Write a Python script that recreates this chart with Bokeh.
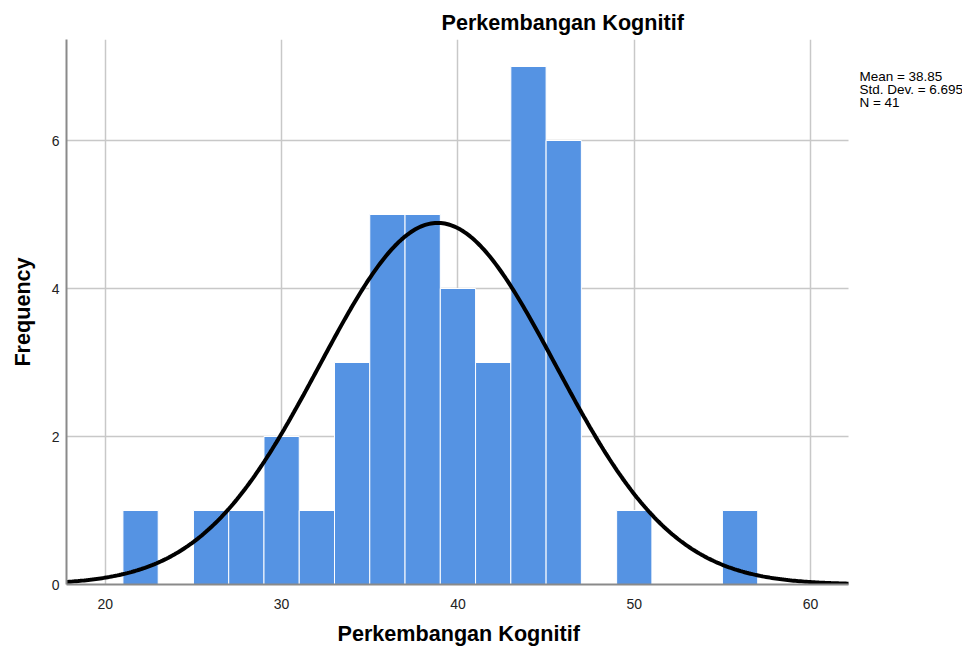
import numpy as np
from bokeh.plotting import figure
from bokeh.models import Range1d, FixedTicker, Label, ColumnDataSource, Title
from bokeh.embed import file_html
from bokeh.resources import INLINE

# Histogram data (bin width 2)
bin_left = [21, 23, 25, 27, 29, 31, 33, 35, 37, 39, 41, 43, 45, 47, 49, 51, 53, 55]
counts = [1, 0, 1, 1, 2, 1, 3, 5, 5, 4, 3, 7, 6, 0, 1, 0, 0, 1]
bin_width = 2
mean = 38.85
std_dev = 6.695
n_obs = 41
x_ticks = [20, 30, 40, 50, 60]
y_ticks = [0, 2, 4, 6]
title_text = "Perkembangan Kognitif"
x_label = "Perkembangan Kognitif"
y_label = "Frequency"

FONT = "Liberation Sans"
X0, X1 = 17.8, 62.15     # visible axis extent
LEFT = 66
FRAME_W = 962 - LEFT
PX_PER_UNIT = 782 / (X1 - X0)

p = figure(width=962, height=655, output_backend="svg", toolbar_location=None,
           x_range=Range1d(X0, X0 + FRAME_W / PX_PER_UNIT), y_range=Range1d(0, 7.365),
           min_border_left=LEFT, min_border_right=0, min_border_top=39, min_border_bottom=71)
p.outline_line_color = None
p.background_fill_color = "white"

# title
p.title.text = title_text
p.title.text_font = FONT
p.title.text_font_size = "21.6px"
p.title.text_font_style = "bold"
p.title.text_color = "black"
p.title.align = "left"
p.title.offset = 375
p.title.standoff = 9

# horizontal grid lines limited to the axis extent
gy = [t for t in y_ticks if t > 0]
p.segment(x0=[X0] * len(gy), x1=[X1] * len(gy), y0=gy, y1=gy,
          line_color="#c8c8c8", line_width=1.5, level="underlay")

# bars
src = ColumnDataSource(dict(left=bin_left,
                            right=[b + bin_width for b in bin_left],
                            top=counts,
                            bottom=[0] * len(counts)))
p.quad(left="left", right="right", top="top", bottom="bottom", source=src,
       fill_color="#5593E3", line_color="white", line_width=1)

# normal curve
xs = np.linspace(X0, X1, 400)
ys = n_obs * bin_width / (std_dev * np.sqrt(2 * np.pi)) * np.exp(-0.5 * ((xs - mean) / std_dev) ** 2)
p.line(xs, ys, line_color="black", line_width=4)

# axes
for ax in (p.xaxis[0], p.yaxis[0]):
    ax.axis_line_color = "#8a8a8a"
    ax.axis_line_width = 2
    ax.major_tick_out = 0
    ax.major_tick_in = 0
    ax.minor_tick_out = 0
    ax.minor_tick_in = 0
    ax.major_label_text_font = FONT
    ax.major_label_text_font_size = "14px"
    ax.major_label_text_color = "#222222"
    ax.axis_label_text_font = FONT
    ax.axis_label_text_font_size = "21.6px"
    ax.axis_label_text_font_style = "bold"
    ax.axis_label_text_color = "black"

p.xaxis.bounds = (X0, X1)
p.xaxis.ticker = FixedTicker(ticks=x_ticks)
p.yaxis.ticker = FixedTicker(ticks=y_ticks)
p.yaxis.axis_label = y_label
p.xaxis.major_label_standoff = 14
p.yaxis.major_label_standoff = 7
p.yaxis.axis_label_standoff = 14

# x axis label as a bottom title, centred under the visible axis
p.add_layout(Title(text=x_label, text_font=FONT, text_font_size="21.6px",
                   text_font_style="bold", text_color="black",
                   align="left", offset=271, standoff=14), "below")

# grid
p.xgrid.grid_line_color = "#c8c8c8"
p.xgrid.grid_line_width = 1.5
p.ygrid.grid_line_color = None

# stats text
stats = [f"Mean = {mean}", f"Std. Dev. = {std_dev}", f"N = {n_obs}"]
for i, s in enumerate(stats):
    p.add_layout(Label(x=62.77, y=6.96 - i * 0.171, text=s, text_font=FONT,
                       text_font_size="13.5px", text_baseline="top", text_color="black"))

open("out.html", "w").write(file_html(p, INLINE))
